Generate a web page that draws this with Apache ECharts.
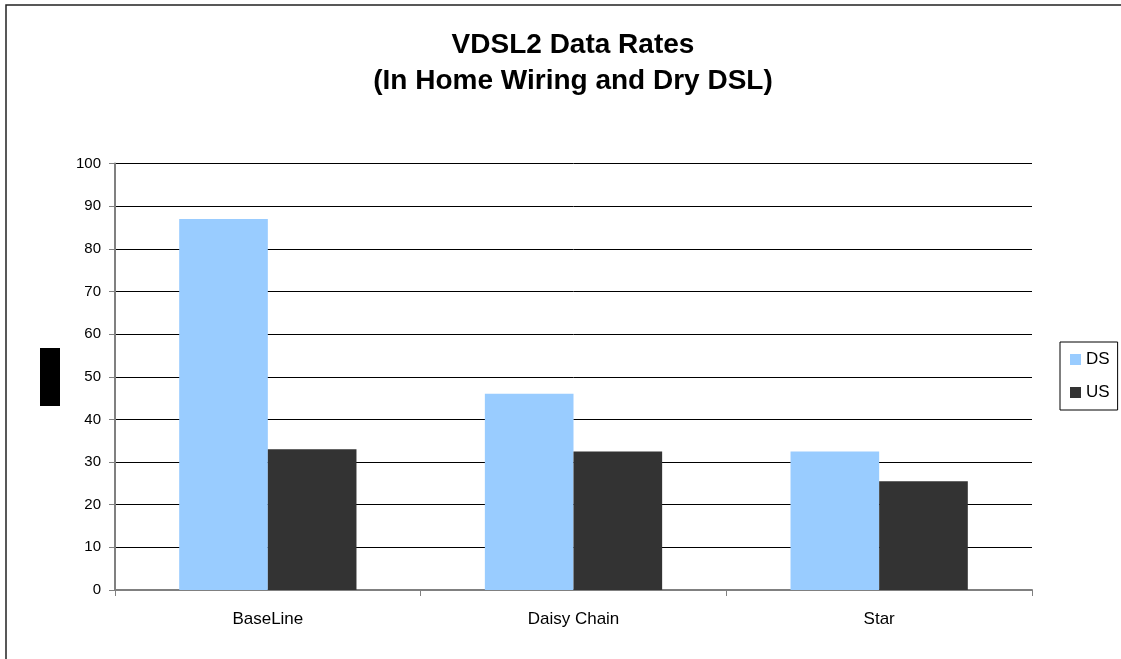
<!DOCTYPE html>
<html>
<head>
<meta charset="utf-8">
<script src="https://cdn.jsdelivr.net/npm/echarts@6/dist/echarts.min.js"></script>
<style>
  html, body { margin: 0; padding: 0; background: #fff; }
  #main { width: 1121px; height: 659px; }
</style>
</head>
<body>
<div id="main"></div>
<script>
var categories = ['BaseLine', 'Daisy Chain', 'Star'];
var dsValues = [87, 46, 32.5];
var usValues = [33, 32.5, 25.5];

var dom = document.getElementById('main');
var myChart = echarts.init(dom);
var option = {
  backgroundColor: '#fff',
  animation: false,
  textStyle: { fontFamily: 'Liberation Sans, Arial, sans-serif' },
  title: {
    text: 'VDSL2 Data Rates\n(In Home Wiring and Dry DSL)',
    left: 568,
    textAlign: 'center',
    top: 22,
    textStyle: {
      fontSize: 28,
      fontWeight: 'bold',
      color: '#000',
      lineHeight: 36
    }
  },
  graphic: [
    {
      type: 'rect',
      shape: { x: 6, y: 5, width: 1200, height: 700 },
      style: { fill: 'none', stroke: '#222', lineWidth: 1.5 },
      silent: true
    },
    {
      type: 'rect',
      shape: { x: 40, y: 348, width: 20, height: 58 },
      style: { fill: '#000' },
      silent: true
    }
  ],
  legend: {
    orient: 'vertical',
    left: 1060,
    top: 342,
    data: ['DS', 'US'],
    icon: 'rect',
    itemWidth: 11,
    itemHeight: 11,
    itemGap: 16,
    borderColor: '#000',
    borderWidth: 1,
    padding: [9, 8, 9, 10],
    textStyle: { fontSize: 17, color: '#000', padding: [0, 0, 0, 0] }
  },
  grid: {
    left: 115,
    right: 89,
    top: 163.5,
    bottom: 69,
    containLabel: false
  },
  xAxis: {
    type: 'category',
    data: categories,
    axisLine: { lineStyle: { color: '#808080', width: 2 } },
    axisTick: { show: true, length: 6, lineStyle: { color: '#808080', width: 1 } },
    axisLabel: { color: '#000', fontSize: 17, margin: 21 }
  },
  yAxis: {
    type: 'value',
    min: 0,
    max: 100,
    interval: 10,
    axisLine: { show: true, lineStyle: { color: '#808080', width: 2 } },
    axisTick: { show: true, length: 6, lineStyle: { color: '#808080', width: 1 } },
    axisLabel: { color: '#000', fontSize: 15, margin: 14 },
    splitLine: { show: true, lineStyle: { color: '#000', width: 1 } }
  },
  series: [
    {
      name: 'DS',
      type: 'bar',
      data: dsValues,
      barGap: '0%',
      barCategoryGap: '42%',
      itemStyle: { color: '#99CCFF' }
    },
    {
      name: 'US',
      type: 'bar',
      data: usValues,
      itemStyle: { color: '#333333' }
    }
  ]
};
if (option && typeof option === 'object') {
  myChart.setOption(option);
}
</script>
</body>
</html>
